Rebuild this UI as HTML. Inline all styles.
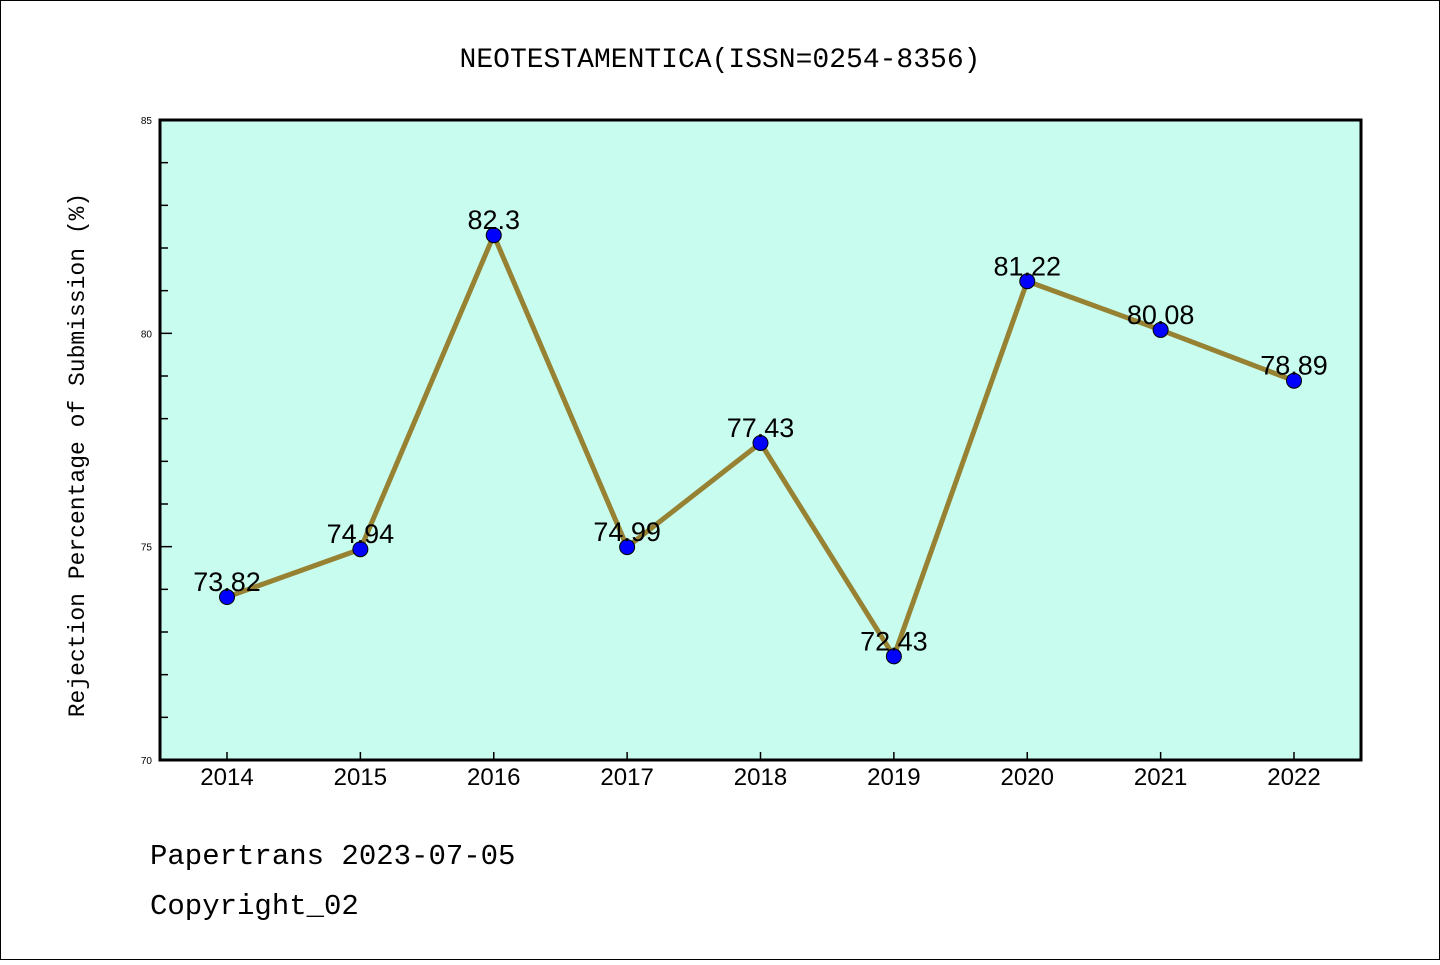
<!DOCTYPE html>
<html><head><meta charset="utf-8"><style>
body{margin:0;background:#fff}
svg text{font-family:"Liberation Sans","DejaVu Sans",sans-serif}
.mono{font-family:"Liberation Mono","DejaVu Sans Mono",monospace}
</style></head><body>
<svg id="chart" width="1440" height="960" xmlns="http://www.w3.org/2000/svg">
<rect x="0.5" y="0.5" width="1439" height="959" fill="#fff" stroke="#000"/>
<text x="720" y="67" text-anchor="middle" font-size="28" class="mono">NEOTESTAMENTICA(ISSN=0254-8356)</text>
<rect x="160" y="120" width="1201" height="640" fill="#c8fcee"/>
<g id="axes"></g>
<g id="series"></g>
<rect x="160" y="120" width="1201" height="640" fill="none" stroke="#000" stroke-width="3"/>
<text transform="translate(84,455) rotate(-90)" text-anchor="middle" font-size="23" class="mono">Rejection Percentage of Submission (%)</text>
<text x="150" y="864" font-size="29" class="mono">Papertrans 2023-07-05</text>
<text x="150" y="914" font-size="29" class="mono">Copyright_02</text>
</svg>
<script>
const years=["2014","2015","2016","2017","2018","2019","2020","2021","2022"];
const values=[73.82,74.94,82.3,74.99,77.43,72.43,81.22,80.08,78.89];
const labels=["73.82","74.94","82.3","74.99","77.43","72.43","81.22","80.08","78.89"];
const yTicks=[70,75,80,85];
const NS="http://www.w3.org/2000/svg";
const x0=160,x1=1361,y0=120,y1=760,ymin=70,ymax=85;
const xs=i=>227+i*(1294-227)/(years.length-1);
const ys=v=>y1-(v-ymin)/(ymax-ymin)*(y1-y0);
function mk(t,a,p){const e=document.createElementNS(NS,t);for(const k in a)e.setAttribute(k,a[k]);p.appendChild(e);return e;}
const ax=document.getElementById('axes'),se=document.getElementById('series');
for(let v=ymin;v<=ymax;v++){
 const major=yTicks.includes(v);
 const l=mk('line',{x1:x0,x2:x0+(major?12:8),y1:ys(v),y2:ys(v),stroke:'#000','stroke-width':1.5},ax);
 
 
}
yTicks.forEach(v=>{const t=mk('text',{x:x0-8,y:ys(v)+4,'text-anchor':'end','font-size':10},ax);t.textContent=v;
 
 });
years.forEach((y,i)=>{
 const l=mk('line',{x1:xs(i),x2:xs(i),y1:y1,y2:y1-8,stroke:'#000','stroke-width':1.5},ax);
 
 
 const t=mk('text',{x:xs(i),y:785,'text-anchor':'middle','font-size':24},ax);t.textContent=y;
 
 
});
const pl=mk('polyline',{points:values.map((v,i)=>xs(i)+','+ys(v)).join(' '),fill:'none',stroke:'#968232','stroke-width':5,'stroke-linejoin':'round'},se);


values.forEach((v,i)=>{
 const c=mk('circle',{cx:xs(i),cy:ys(v),r:7.5,fill:'#0000ff',stroke:'#000','stroke-width':1},se);
 
 
 const t=mk('text',{x:xs(i),y:ys(v)-6,'text-anchor':'middle','font-size':27},se);t.textContent=labels[i];
 
 
});
</script>
</body></html>
